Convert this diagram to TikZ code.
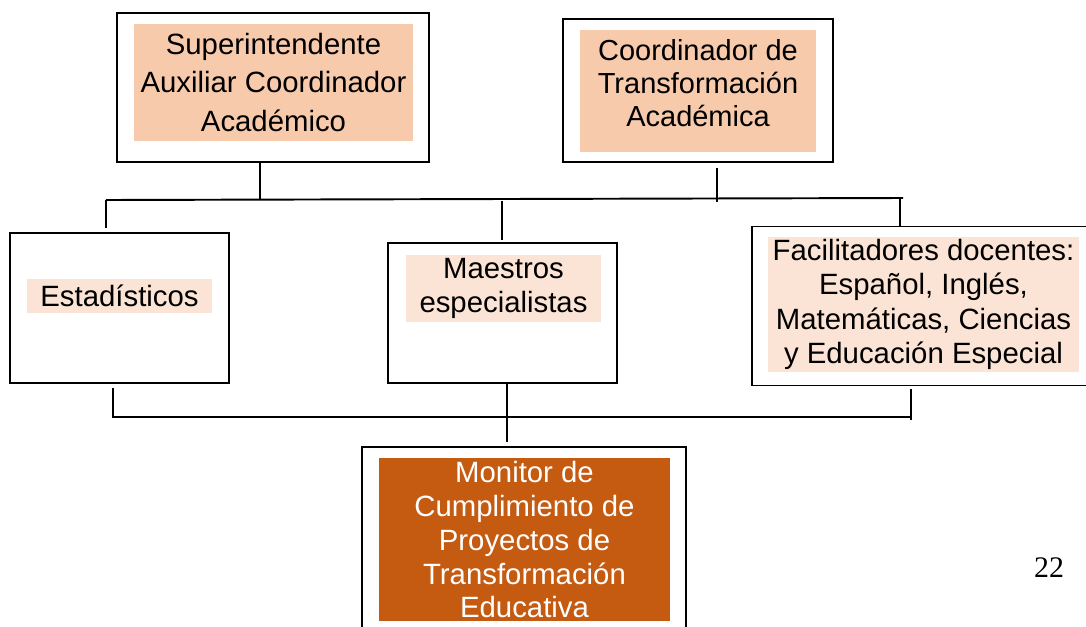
\documentclass[tikz,border=0pt]{standalone}
\usepackage{fontspec}
\setmainfont{Liberation Sans}
\newfontfamily\numfont{Liberation Serif}
\definecolor{peach}{HTML}{F7CAAC}
\definecolor{lightpeach}{HTML}{FBE4D5}
\definecolor{rust}{HTML}{C55A11}

\begin{document}
\begin{tikzpicture}[x=0.02cm, y=-0.02cm, line width=1.1pt]
    \tikzset{frame/.style={draw, rectangle, inner sep=0pt},
             fillbox/.style={rectangle, inner sep=0pt, align=center, font=\fontsize{16.7}{19.3}\selectfont}}
    \useasboundingbox (0,0) rectangle (1086,626);

    % top row
    \node[frame, minimum width=6.24cm, minimum height=2.98cm] (supFr) at (273,87.5) {};
    \node[fillbox, fill=peach, minimum width=5.58cm, minimum height=2.34cm, font=\fontsize{16.7}{21.8}\selectfont] (sup) at (273.5,82.5)
        {Superintendente\\Auxiliar Coordinador\\Académico};
    \node[frame, minimum width=5.4cm, minimum height=2.86cm] (coordFr) at (698,90.5) {};
    \node[fillbox, fill=peach, minimum width=4.72cm, minimum height=2.44cm, text depth=9pt, font=\fontsize{16.5}{18.7}\selectfont] (coord) at (698,91)
        {Coordinador de\\Transformación\\Académica};

    % middle row
    \node[frame, minimum width=4.38cm, minimum height=3cm] (estFr) at (119.5,308) {};
    \node[fillbox, fill=lightpeach, minimum width=3.7cm, minimum height=0.68cm] (est) at (119.5,296) {Estadísticos};
    \node[frame, minimum width=4.58cm, minimum height=2.8cm] (maeFr) at (502.5,313) {};
    \node[fillbox, fill=lightpeach, minimum width=3.9cm, minimum height=1.34cm] (mae) at (503.5,288.5)
        {Maestros\\especialistas};
    \node[frame, minimum width=6.88cm, minimum height=3.18cm] (facFr) at (924,306) {};
    \node[fillbox, fill=lightpeach, minimum width=6.22cm, minimum height=2.7cm, font=\fontsize{16.7}{19.6}\selectfont] (fac) at (923.5,304.5)
        {Facilitadores docentes:\\Español, Inglés,\\Matemáticas, Ciencias\\y Educación Especial};

    % bottom
    \node[frame, minimum width=6.48cm, minimum height=3.7cm] (monFr) at (524,539.5) {};
    \node[fillbox, fill=rust, text=white, minimum width=5.82cm, minimum height=3.26cm, text depth=-16pt] (mon) at (524.5,539.5)
        {Monitor de\\Cumplimiento de\\Proyectos de\\Transformación\\Educativa};
    \node[font=\numfont\fontsize{17}{20}\selectfont] (pageNo) at (1049,568) {22};

    % upper connectors
    \coordinate (jSup) at (260,200);
    \coordinate (jCoord) at (717,202);
    \coordinate (jEst) at (106,200);
    \coordinate (jMae) at (502,201);
    \coordinate (jFac) at (900,198);
    \coordinate (jEnd) at (903,198);
    \draw (supFr.south -| jSup) -- (jSup);
    \draw ([yshift=-0.1cm]coordFr.south -| jCoord) -- (jCoord);
    \draw (jEst) -- (jEnd);
    \draw (jEst) -- ([yshift=0.08cm]estFr.north -| jEst);
    \draw (jMae) -- ([yshift=0.04cm]maeFr.north -| jMae);
    \draw (jFac) -- (facFr.north -| jFac);

    % lower connectors
    \coordinate (bEst) at (113,417);
    \coordinate (bMae) at (507,417);
    \coordinate (bFac) at (911,417);
    \draw ([yshift=-0.08cm]estFr.south -| bEst) -- (bEst) -- (bFac);
    \draw ([yshift=-0.06cm]facFr.south -| bFac) -- ([yshift=-0.06cm]bFac);
    \draw (maeFr.south -| bMae) -- ([yshift=0.08cm]monFr.north -| bMae);
\end{tikzpicture}
\end{document}
